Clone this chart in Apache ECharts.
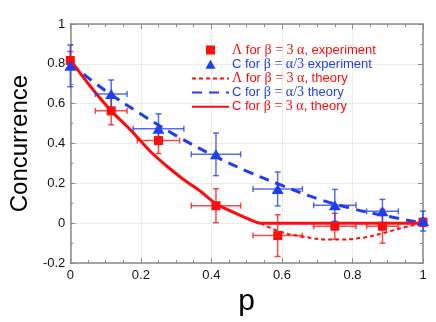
<!DOCTYPE html>
<html>
<head>
<meta charset="utf-8">
<title>Concurrence</title>
<script src="https://cdn.jsdelivr.net/npm/echarts@6/dist/echarts.min.js"></script>
<style>
  html, body { margin: 0; padding: 0; background: #fff; }
  #main { width: 436px; height: 322px; }
</style>
</head>
<body>
<div id="main"></div>
<script>
// experiment points (p, value, p error, value error)
var pExp = [0, 0.116, 0.25, 0.413, 0.588, 0.75, 0.885, 1];
var lambdaExp = [0.817, 0.564, 0.415, 0.088, -0.062, -0.015, -0.015, 0.005];
var lambdaPErr = [0, 0.045, 0.06, 0.07, 0.07, 0.06, 0.045, 0];
var lambdaErr = [0.045, 0.07, 0.065, 0.085, 0.105, 0.065, 0.085, 0.02];
var cExp = [0.79, 0.649, 0.474, 0.346, 0.172, 0.09, 0.06, 0.011];
var cPErr = [0, 0.045, 0.072, 0.07, 0.07, 0.06, 0.045, 0];
var cErr = [0.105, 0.07, 0.075, 0.107, 0.085, 0.08, 0.06, 0.05];

// theory curves
var pBlue = [0, 0.1, 0.2, 0.3, 0.4, 0.5, 0.6, 0.7, 0.8, 0.9, 1];
var cBlueTheory = [0.8, 0.665, 0.548, 0.44, 0.345, 0.262, 0.19, 0.124, 0.073, 0.035, 0];
var pRed = [0, 0.06, 0.116, 0.172, 0.227, 0.274, 0.32, 0.367, 0.413, 0.46, 0.507, 0.54, 0.7, 0.85, 1];
var cRedTheory = [0.82, 0.68, 0.564, 0.466, 0.36, 0.286, 0.221, 0.163, 0.098, 0.057, 0.02, 0, 0, 0, 0];
var pLam = [0.54, 0.588, 0.656, 0.749, 0.823, 0.888, 0.954, 1];
var lamTheory = [0, -0.038, -0.066, -0.082, -0.074, -0.049, -0.017, 0];

var names = [
    'Λ for β = 3 α, experiment',
    'C for β = α/3 experiment',
    'Λ for β = 3 α, theory',
    'C for β = α/3 theory',
    'C for β = 3 α, theory'
];

var RED = '#ff0d0d', BLUE = '#1f3ef0';
var SANS = 'Liberation Sans, Arial, sans-serif';

function zip(xs, ys) {
    var out = [];
    for (var i = 0; i < xs.length; i++) out.push([xs[i], ys[i]]);
    return out;
}
function errData(ys, xe, ye) {
    var out = [];
    for (var i = 0; i < pExp.length; i++) out.push([pExp[i], ys[i], xe[i], ye[i]]);
    return out;
}

function errorBars(color) {
    return function (params, api) {
        var x = api.value(0), y = api.value(1), xe = api.value(2), ye = api.value(3);
        var c = 3;
        var kids = [];
        var st = { stroke: color, lineWidth: 1.5, opacity: 0.75 };
        if (ye > 0) {
            var a = api.coord([x, y + ye]), b = api.coord([x, y - ye]);
            kids.push({ type: 'line', shape: { x1: a[0], y1: a[1], x2: b[0], y2: b[1] }, style: st });
            kids.push({ type: 'line', shape: { x1: a[0] - c, y1: a[1], x2: a[0] + c, y2: a[1] }, style: st });
            kids.push({ type: 'line', shape: { x1: b[0] - c, y1: b[1], x2: b[0] + c, y2: b[1] }, style: st });
        }
        if (xe > 0) {
            var l = api.coord([x - xe, y]), r = api.coord([x + xe, y]);
            kids.push({ type: 'line', shape: { x1: l[0], y1: l[1], x2: r[0], y2: r[1] }, style: st });
            kids.push({ type: 'line', shape: { x1: l[0], y1: l[1] - c, x2: l[0], y2: l[1] + c }, style: st });
            kids.push({ type: 'line', shape: { x1: r[0], y1: r[1] - c, x2: r[0], y2: r[1] + c }, style: st });
        }
        return { type: 'group', children: kids };
    };
}

function frameAxis(extra) {
    var base = {
        type: 'value',
        axisLine: { show: true, onZero: false, lineStyle: { color: '#8a8a8a', width: 1.5 } },
        axisTick: { show: true, inside: true, length: 5, lineStyle: { color: '#8a8a8a' } },
        minorTick: { show: true, length: 3, lineStyle: { color: '#8a8a8a' } },
        axisLabel: { show: false },
        splitLine: { show: false }
    };
    for (var k in extra) base[k] = extra[k];
    return base;
}

var chart = echarts.init(document.getElementById('main'));
chart.setOption({
    animation: false,
    grid: { left: 65, right: 13, top: 24, bottom: 53 },
    legend: {
        orient: 'vertical',
        left: 186,
        top: 38,
        itemWidth: 37,
        itemHeight: 9,
        itemGap: 0.2,
        data: [
            { name: names[0], icon: 'path://M0,0L10,0L10,10L0,10Z', textStyle: { color: RED } },
            { name: names[1], icon: 'path://M5,0L10,9L0,9Z', textStyle: { color: BLUE } },
            { name: names[2], itemStyle: { opacity: 0 }, textStyle: { color: RED } },
            { name: names[3], itemStyle: { opacity: 0 }, textStyle: { color: BLUE } },
            { name: names[4], itemStyle: { opacity: 0 }, textStyle: { color: RED } }
        ],
        formatter: function (name) {
            return name.replace(/(Λ|β = 3 α|β = α\/3)/g, '{s|$1}');
        },
        textStyle: {
            fontFamily: SANS, fontSize: 13, lineHeight: 14, padding: [0, 0, 0, -2],
            rich: { s: { fontFamily: 'Liberation Serif, serif', fontSize: 14 } }
        }
    },
    xAxis: [
        frameAxis({
            min: 0, max: 1, interval: 0.2, position: 'bottom',
            minorTick: { show: true, splitNumber: 4, length: 3, lineStyle: { color: '#8a8a8a' } },
            axisLabel: { show: true, color: '#111', fontFamily: SANS, fontSize: 13, margin: 6 },
            splitLine: { show: true, lineStyle: { color: '#d8d8d8', type: 'dotted' } },
            name: 'p', nameLocation: 'middle', nameGap: 14,
            nameTextStyle: { color: '#000', fontFamily: SANS, fontSize: 30 }
        }),
        frameAxis({
            min: 0, max: 1, interval: 0.2, position: 'top',
            minorTick: { show: true, splitNumber: 4, length: 3, lineStyle: { color: '#8a8a8a' } }
        })
    ],
    yAxis: [
        frameAxis({
            min: -0.2, max: 1, interval: 0.2, position: 'left',
            minorTick: { show: true, splitNumber: 2, length: 3, lineStyle: { color: '#8a8a8a' } },
            axisLabel: { show: true, color: '#111', fontFamily: SANS, fontSize: 13, margin: 5 },
            splitLine: { show: true, lineStyle: { color: '#d8d8d8', type: 'dotted' } },
            name: 'Concurrence', nameLocation: 'middle', nameGap: 38,
            nameTextStyle: { color: '#000', fontFamily: SANS, fontSize: 24 }
        }),
        frameAxis({
            min: -0.2, max: 1, interval: 0.2, position: 'right',
            minorTick: { show: true, splitNumber: 2, length: 3, lineStyle: { color: '#8a8a8a' } }
        })
    ],
    series: [
        {
            name: names[3], type: 'line', data: zip(pBlue, cBlueTheory), smooth: 0.4,
            symbol: 'none', z: 2,
            lineStyle: { color: BLUE, width: 3, type: [10, 7] }, itemStyle: { color: BLUE }
        },
        {
            name: names[2], type: 'line', data: zip(pLam, lamTheory), smooth: 0.5,
            symbol: 'none', z: 2,
            lineStyle: { color: RED, width: 2, type: [4, 3] }, itemStyle: { color: RED }
        },
        {
            name: names[4], type: 'line', data: zip(pRed, cRedTheory), smooth: 0.3,
            symbol: 'none', z: 3,
            lineStyle: { color: RED, width: 3 }, itemStyle: { color: RED }
        },
        {
            name: 'lambdaErr', type: 'custom', z: 4, data: errData(lambdaExp, lambdaPErr, lambdaErr),
            renderItem: errorBars(RED), clip: false
        },
        {
            name: 'cErr', type: 'custom', z: 4, data: errData(cExp, cPErr, cErr),
            renderItem: errorBars(BLUE), clip: false
        },
        {
            name: names[0], type: 'scatter', data: zip(pExp, lambdaExp), z: 5, clip: false,
            symbol: 'rect', symbolSize: 9, itemStyle: { color: RED, opacity: 1 }
        },
        {
            name: names[1], type: 'scatter', data: zip(pExp, cExp), z: 6, clip: false,
            symbol: 'triangle', symbolSize: [12, 10], itemStyle: { color: BLUE, opacity: 1 }
        }
    ]
});
</script>
</body>
</html>
